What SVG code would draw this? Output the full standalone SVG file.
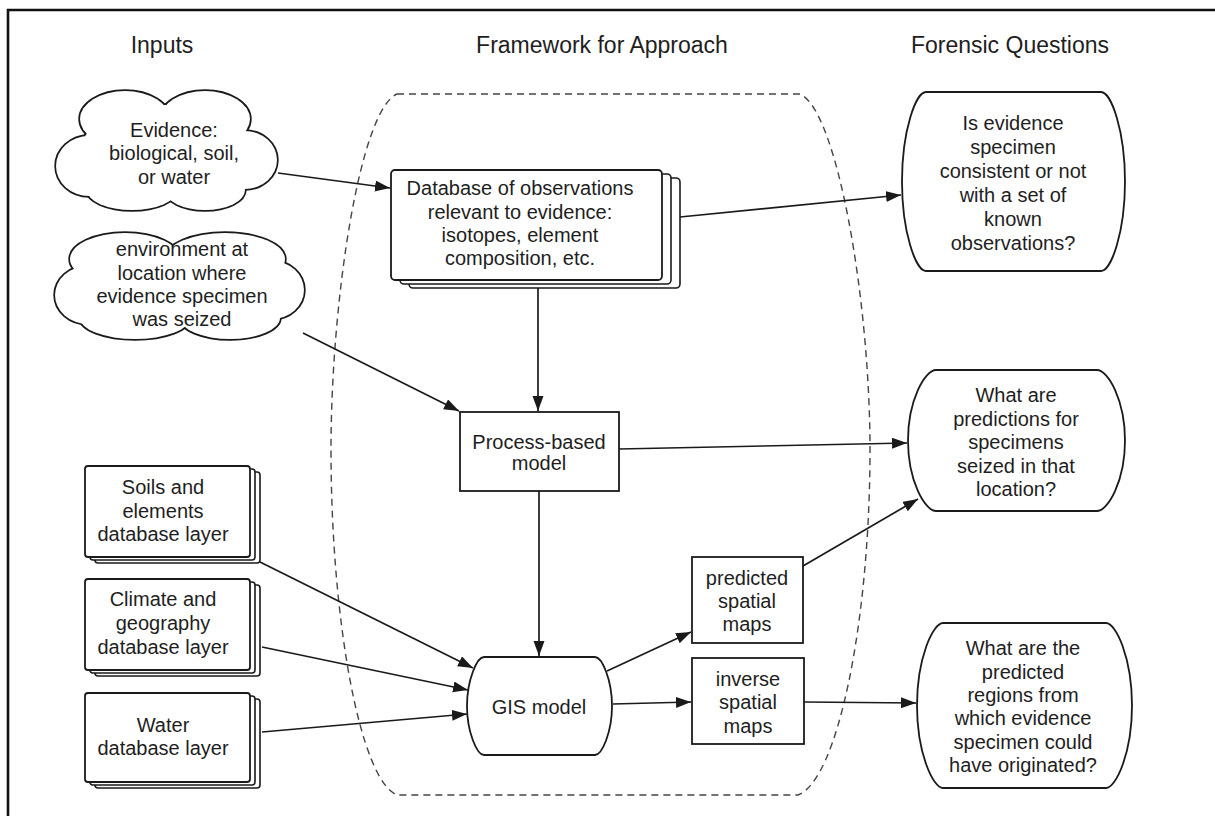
<svg xmlns="http://www.w3.org/2000/svg" width="1215" height="816" viewBox="0 0 1215 816">
<defs>
<style>
text{font-family:"Liberation Sans",Arial,sans-serif;font-size:20px;fill:#1e1e1e;text-anchor:middle}
.title{font-size:23px}
.box{fill:#fff;stroke:#1a1a1a;stroke-width:1.8}
.layer{fill:#fff;stroke:#1a1a1a;stroke-width:1.6}
.conn{fill:none;stroke:#1a1a1a;stroke-width:1.7;marker-end:url(#arr)}
.cloudo{fill:#fff;stroke:#1a1a1a;stroke-width:3.4}
.cloudi{fill:#fff;stroke:none}
</style>
<marker id="arr" markerUnits="userSpaceOnUse" markerWidth="16" markerHeight="12" refX="15" refY="5.5" orient="auto">
<path d="M0,0 L15,5.5 L0,11 Z" fill="#1a1a1a"/>
</marker>
</defs>
<rect x="0" y="0" width="1215" height="816" fill="#fff"/>
<g id="frame">
<path d="M8,816 L8,10 L1215,10" fill="none" stroke="#111" stroke-width="2.6"/>
</g>
<g id="titles">
<text class="title" x="162" y="53">Inputs</text>
<text class="title" x="602" y="53">Framework for Approach</text>
<text class="title" x="1010" y="53">Forensic Questions</text>
</g>
<g id="framework-boundary">
<path d="M397,94 L800,94 C837,110 870,300 870,450 C870,620 838,780 798,795 L397,795 C360,780 331,620 331,450 C331,300 360,110 397,94 Z" fill="none" stroke="#444" stroke-width="1.4" stroke-dasharray="7 5"/>
</g>
<g id="connectors">
<line class="conn" x1="278" y1="173" x2="390" y2="188"/>
<line class="conn" x1="680" y1="217" x2="901" y2="195"/>
<line class="conn" x1="538" y1="288" x2="538" y2="411"/>
<line class="conn" x1="303" y1="333" x2="459" y2="411"/>
<line class="conn" x1="619" y1="449" x2="907" y2="443"/>
<line class="conn" x1="539" y1="491" x2="539" y2="656"/>
<line class="conn" x1="260" y1="562" x2="473" y2="668"/>
<line class="conn" x1="262" y1="647" x2="468" y2="690"/>
<line class="conn" x1="262" y1="732" x2="467" y2="714"/>
<line class="conn" x1="607" y1="671" x2="691" y2="632"/>
<line class="conn" x1="613" y1="704" x2="691" y2="702"/>
<line class="conn" x1="803" y1="566" x2="918" y2="499"/>
<line class="conn" x1="804" y1="702" x2="916" y2="703"/>
</g>
<g id="cloud-evidence">
<g class="cloudo">
<ellipse cx="166" cy="150" rx="85" ry="45"/>
<ellipse cx="125" cy="119" rx="45" ry="28"/>
<ellipse cx="205" cy="119" rx="45" ry="28"/>
<ellipse cx="245" cy="160" rx="32" ry="29"/>
<ellipse cx="89" cy="166" rx="33" ry="30"/>
<ellipse cx="132" cy="190" rx="45" ry="20"/>
<ellipse cx="205" cy="190" rx="40" ry="20"/>
</g>
<g class="cloudi">
<ellipse cx="166" cy="150" rx="85" ry="45"/>
<ellipse cx="125" cy="119" rx="45" ry="28"/>
<ellipse cx="205" cy="119" rx="45" ry="28"/>
<ellipse cx="245" cy="160" rx="32" ry="29"/>
<ellipse cx="89" cy="166" rx="33" ry="30"/>
<ellipse cx="132" cy="190" rx="45" ry="20"/>
<ellipse cx="205" cy="190" rx="40" ry="20"/>
</g>
<text x="174" y="137">Evidence:</text>
<text x="174" y="160">biological, soil,</text>
<text x="174" y="184">or water</text>
</g>
<g id="cloud-environment">
<g class="cloudo">
<ellipse cx="180" cy="286" rx="105" ry="40"/>
<ellipse cx="125" cy="259" rx="55" ry="26"/>
<ellipse cx="225" cy="259" rx="60" ry="26"/>
<ellipse cx="272" cy="290" rx="32" ry="29"/>
<ellipse cx="88" cy="295" rx="33" ry="29"/>
<ellipse cx="135" cy="318" rx="55" ry="21"/>
<ellipse cx="230" cy="318" rx="50" ry="21"/>
</g>
<g class="cloudi">
<ellipse cx="180" cy="286" rx="105" ry="40"/>
<ellipse cx="125" cy="259" rx="55" ry="26"/>
<ellipse cx="225" cy="259" rx="60" ry="26"/>
<ellipse cx="272" cy="290" rx="32" ry="29"/>
<ellipse cx="88" cy="295" rx="33" ry="29"/>
<ellipse cx="135" cy="318" rx="55" ry="21"/>
<ellipse cx="230" cy="318" rx="50" ry="21"/>
</g>
<text x="182" y="256">environment at</text>
<text x="182" y="280">location where</text>
<text x="182" y="303">evidence specimen</text>
<text x="182" y="326">was seized</text>
</g>
<g id="database">
<rect class="layer" x="409" y="178" width="271" height="110" rx="4"/>
<rect class="layer" x="400" y="174" width="271" height="110" rx="4"/>
<rect class="box" x="391" y="170" width="271" height="110" rx="4"/>
<text x="520" y="195">Database of observations</text>
<text x="520" y="219">relevant to evidence:</text>
<text x="520" y="242">isotopes, element</text>
<text x="520" y="265">composition, etc.</text>
</g>
<g id="process-model">
<rect class="box" x="460" y="412" width="159" height="79"/>
<text x="539" y="449">Process-based</text>
<text x="539" y="470">model</text>
</g>
<g id="gis-model">
<path class="box" d="M484,657 L595,657 C602,657 612,680 612,706 C612,732 602,755 595,755 L484,755 C477,755 467,732 467,706 C467,680 477,657 484,657 Z"/>
<text x="539" y="714">GIS model</text>
</g>
<g id="predicted-maps">
<rect class="box" x="692" y="557" width="111" height="86"/>
<text x="747" y="585">predicted</text>
<text x="747" y="608">spatial</text>
<text x="747" y="631">maps</text>
</g>
<g id="inverse-maps">
<rect class="box" x="692" y="658" width="112" height="86"/>
<text x="748" y="686">inverse</text>
<text x="748" y="709">spatial</text>
<text x="748" y="733">maps</text>
</g>
<g id="soils-layer">
<rect class="layer" x="95" y="472" width="165" height="91" rx="3"/>
<rect class="layer" x="90" y="469" width="165" height="91" rx="3"/>
<rect class="box" x="85" y="466" width="165" height="91" rx="3"/>
<text x="163" y="494">Soils and</text>
<text x="163" y="518">elements</text>
<text x="163" y="541">database layer</text>
</g>
<g id="climate-layer">
<rect class="layer" x="95" y="585" width="165" height="91" rx="3"/>
<rect class="layer" x="90" y="582" width="165" height="91" rx="3"/>
<rect class="box" x="85" y="579" width="165" height="91" rx="3"/>
<text x="163" y="606">Climate and</text>
<text x="163" y="630">geography</text>
<text x="163" y="654">database layer</text>
</g>
<g id="water-layer">
<rect class="layer" x="95" y="699" width="165" height="89" rx="3"/>
<rect class="layer" x="90" y="696" width="165" height="89" rx="3"/>
<rect class="box" x="85" y="693" width="165" height="89" rx="3"/>
<text x="163" y="732">Water</text>
<text x="163" y="755">database layer</text>
</g>
<g id="question-consistent">
<path class="box" d="M926,92 L1101,92 C1111,92 1125,130 1125,181.5 C1125,233 1111,271 1101,271 L926,271 C916,271 902,233 902,181.5 C902,130 916,92 926,92 Z"/>
<text x="1013" y="130">Is evidence</text>
<text x="1013" y="154">specimen</text>
<text x="1013" y="178">consistent or not</text>
<text x="1013" y="202">with a set of</text>
<text x="1013" y="226">known</text>
<text x="1013" y="250">observations?</text>
</g>
<g id="question-predictions">
<path class="box" d="M936,370 L1097,370 C1108,370 1125,400 1125,440.5 C1125,481 1108,511 1097,511 L936,511 C925,511 908,481 908,440.5 C908,400 925,370 936,370 Z"/>
<text x="1016" y="402">What are</text>
<text x="1016" y="426">predictions for</text>
<text x="1016" y="449">specimens</text>
<text x="1016" y="473">seized in that</text>
<text x="1016" y="496">location?</text>
</g>
<g id="question-regions">
<path class="box" d="M943,623 L1106,623 C1116,623 1132,658 1132,705.5 C1132,753 1116,788 1106,788 L943,788 C933,788 917,753 917,705.5 C917,658 933,623 943,623 Z"/>
<text x="1023" y="655">What are the</text>
<text x="1023" y="679">predicted</text>
<text x="1023" y="702">regions from</text>
<text x="1023" y="725">which evidence</text>
<text x="1023" y="749">specimen could</text>
<text x="1023" y="772">have originated?</text>
</g>
</svg>
